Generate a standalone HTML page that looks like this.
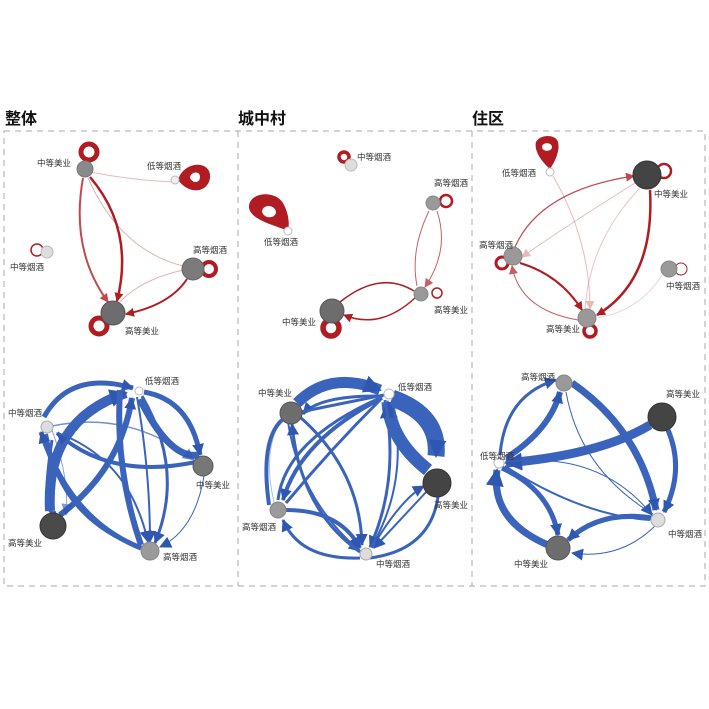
<!DOCTYPE html>
<html><head><meta charset="utf-8"><style>
html,body{margin:0;padding:0;background:#fff;}
svg{display:block;font-family:"Liberation Sans","Noto Sans CJK SC",sans-serif;}
.t{font-size:16px;font-weight:bold;fill:#111;}
.l{font-size:8.5px;fill:#333;}
.r{fill:none;stroke:#b01c22;}
.b{fill:none;stroke:#3a63bb;}
</style></head><body>
<svg width="709" height="709" viewBox="0 0 709 709" xmlns="http://www.w3.org/2000/svg">
<defs>
<marker id="ar" markerUnits="userSpaceOnUse" markerWidth="9" markerHeight="9" refX="8" refY="4.5" orient="auto"><path d="M0,0 L9,4.5 L0,9 z" fill="#b01c22"/></marker>
<marker id="ab" markerUnits="userSpaceOnUse" markerWidth="12" markerHeight="12" refX="11" refY="6" orient="auto"><path d="M0,0 L12,6 L0,12 z" fill="#2f57b0"/></marker>
<marker id="abL" markerUnits="userSpaceOnUse" markerWidth="18" markerHeight="18" refX="16" refY="9" orient="auto"><path d="M0,0 L18,9 L0,18 z" fill="#2f57b0"/></marker>
</defs>
<text class="t" x="5" y="124">整体</text>
<text class="t" x="238" y="124">城中村</text>
<text class="t" x="472" y="124">住区</text>
<g fill="none" stroke="#aaa" stroke-width="1" stroke-dasharray="6,5">
<rect x="4" y="131" width="701" height="455"/>
<line x1="238" y1="131" x2="238" y2="586"/>
<line x1="472" y1="131" x2="472" y2="586"/>
</g>

<!-- Panel 1 top -->
<g>
<path class="r" stroke-width="2" opacity=".8" d="M83,178 Q70,250 108,302" marker-end="url(#ar)"/>
<path class="r" stroke-width="2.5" d="M90,177 Q135,230 117,301" marker-end="url(#ar)"/>
<path class="r" stroke-width="1" opacity=".35" d="M183,266 Q120,250 88,178"/>
<path class="r" stroke-width="1" opacity=".35" d="M183,270 Q140,280 120,302"/>
<path class="r" stroke-width="2" d="M187,279 Q170,305 126,314" marker-end="url(#ar)"/>
<path class="r" stroke-width="1" opacity=".3" d="M174,182 Q130,180 90,172"/>
<circle class="r" stroke-width="5" cx="89" cy="152" r="8"/>
<path fill="#b01c22" d="M178,180 C184,160 212,160 210,178 C208,192 190,196 178,180z M190,178 C190,172 200,170 200,177 C200,183 193,184 190,178z" fill-rule="evenodd"/>
<circle class="r" stroke-width="1.5" cx="37" cy="250" r="6"/>
<circle class="r" stroke-width="4" cx="209" cy="269" r="7"/>
<circle class="r" stroke-width="5" cx="99" cy="326" r="8"/>
<circle cx="85" cy="169" r="8" fill="#8a8a8a" stroke="#777"/>
<circle cx="175" cy="180" r="4" fill="#eee" stroke="#bbb"/>
<circle cx="47" cy="252" r="6" fill="#ddd" stroke="#bbb"/>
<circle cx="193" cy="269" r="11" fill="#7b7b7b" stroke="#666"/>
<circle cx="113" cy="313" r="12" fill="#6d6d6d" stroke="#555"/>
<text class="l" x="37" y="166">中等美业</text>
<text class="l" x="147" y="169">低等烟酒</text>
<text class="l" x="193" y="253">高等烟酒</text>
<text class="l" x="10" y="270">中等烟酒</text>
<text class="l" x="125" y="334">高等美业</text>
</g>

<!-- Panel 1 bottom -->
<g>
<path class="b" stroke-width="5" d="M44,417 Q70,370 133,388" marker-end="url(#ab)"/>
<path class="b" stroke-width="10" d="M50,511 Q45,420 126,393" marker-end="url(#abL)"/>
<path class="b" stroke-width="6" d="M60,515 Q120,470 132,398" marker-end="url(#ab)"/>
<path class="b" stroke-width="7" d="M140,399 Q170,460 199,455" />
<path class="b" stroke-width="5" d="M144,392 Q190,400 200,455" marker-end="url(#ab)"/>
<path class="b" stroke-width="4" d="M196,462 Q110,480 57,433" marker-end="url(#ab)"/>
<path class="b" stroke-width="1.5" opacity=".7" d="M52,426 Q130,410 194,460" marker-end="url(#ab)"/>
<path class="b" stroke-width="4" d="M46,434 Q60,520 145,549"/>
<path class="b" stroke-width="3" d="M52,440 Q40,520 56,512"/>
<path class="b" stroke-width="5" d="M141,548 Q70,520 41,432" marker-end="url(#ab)"/>
<path class="b" stroke-width="6" d="M120,390 Q115,470 141,545" />
<path class="b" stroke-width="3" d="M142,396 Q185,470 155,543" marker-end="url(#ab)"/>
<path class="b" stroke-width="2" d="M137,397 Q150,470 150,542" marker-end="url(#ab)"/>
<path class="b" stroke-width="1" d="M204,476 Q195,530 160,547" marker-end="url(#ab)"/>
<path class="b" stroke-width="2" d="M58,433 Q130,460 148,542" marker-end="url(#ab)"/>
<path class="b" stroke-width="1" opacity=".6" d="M52,430 Q70,480 66,515" marker-end="url(#ab)"/>
<circle cx="139" cy="391" r="4" fill="#fff" stroke="#bbb"/>
<circle cx="47" cy="427" r="6" fill="#ddd" stroke="#aaa"/>
<circle cx="203" cy="466" r="10" fill="#777" stroke="#555"/>
<circle cx="53" cy="526" r="13" fill="#4a4a4a" stroke="#333"/>
<circle cx="150" cy="551" r="9" fill="#9a9a9a" stroke="#888"/>
<text class="l" x="145" y="384">低等烟酒</text>
<text class="l" x="8" y="416">中等烟酒</text>
<text class="l" x="196" y="488">中等美业</text>
<text class="l" x="8" y="546">高等美业</text>
<text class="l" x="163" y="560">高等烟酒</text>
</g>

<!-- Panel 2 top -->
<g>
<circle class="r" stroke-width="3.5" cx="344" cy="157" r="5"/>
<path fill="#b01c22" fill-rule="evenodd" d="M288,231 C278,226 248,220 249,206 C250,192 275,190 283,203 C288,212 290,222 288,231z M262,212 C262,204 275,204 276,212 C276,218 265,220 262,212z"/>
<circle class="r" stroke-width="2.5" cx="446" cy="201" r="6"/>
<circle class="r" stroke-width="1.5" cx="437" cy="293" r="5"/>
<circle class="r" stroke-width="5.5" cx="331" cy="328" r="8"/>
<path class="r" stroke-width="1" opacity=".7" d="M429,211 Q410,250 417,286" />
<path class="r" stroke-width="1" opacity=".7" d="M437,211 Q450,250 425,287" marker-end="url(#ar)"/>
<path class="r" stroke-width="1.5" d="M340,302 Q380,270 414,291"/>
<path class="r" stroke-width="1.5" d="M415,298 Q380,330 344,315" marker-end="url(#ar)"/>
<circle cx="351" cy="165" r="6" fill="#ddd" stroke="#bbb"/>
<circle cx="288" cy="231" r="4" fill="#fff" stroke="#bbb"/>
<circle cx="433" cy="203" r="7" fill="#999" stroke="#888"/>
<circle cx="421" cy="294" r="7" fill="#999" stroke="#888"/>
<circle cx="332" cy="311" r="12" fill="#6d6d6d" stroke="#555"/>
<text class="l" x="357" y="160">中等烟酒</text>
<text class="l" x="264" y="245">低等烟酒</text>
<text class="l" x="434" y="186">高等烟酒</text>
<text class="l" x="434" y="313">高等美业</text>
<text class="l" x="282" y="325">中等美业</text>
</g>

<!-- Panel 2 bottom -->
<g>
<path class="b" stroke-width="11" d="M297,403 Q330,370 380,390" marker-end="url(#abL)"/>
<path class="b" stroke-width="17" d="M392,398 Q440,415 436,456" marker-end="url(#abL)"/>
<path class="b" stroke-width="13" d="M428,470 Q390,440 388,402" marker-end="url(#abL)"/>
<path class="b" stroke-width="3" d="M383,396 Q320,395 303,414" marker-end="url(#ab)"/>
<path class="b" stroke-width="4" d="M382,398 Q300,440 283,500" marker-end="url(#ab)"/>
<path class="b" stroke-width="3" d="M278,500 Q285,440 380,398"/>
<path class="b" stroke-width="3" d="M385,400 Q400,480 370,547" marker-end="url(#ab)"/>
<path class="b" stroke-width="2" d="M392,400 Q410,480 372,546"/>
<path class="b" stroke-width="3" d="M300,417 Q360,470 362,545" marker-end="url(#ab)"/>
<path class="b" stroke-width="2" d="M288,422 Q300,500 360,551" marker-end="url(#ab)"/>
<path class="b" stroke-width="3" d="M360,552 Q300,510 292,424" marker-end="url(#ab)"/>
<path class="b" stroke-width="4" d="M269,505 Q260,440 282,420" />
<path class="b" stroke-width="1" opacity=".4" d="M274,502 Q262,450 282,418" />
<path class="b" stroke-width="4" d="M286,510 Q340,510 360,548" marker-end="url(#ab)"/>
<path class="b" stroke-width="3" d="M360,558 Q300,560 283,520" marker-end="url(#ab)"/>
<path class="b" stroke-width="3" d="M370,558 Q430,550 438,497" />
<path class="b" stroke-width="2" d="M372,548 Q400,500 424,486" marker-end="url(#ab)"/>
<path class="b" stroke-width="2" d="M428,490 Q400,520 374,548" marker-end="url(#ab)"/>
<path class="b" stroke-width="3" d="M380,400 Q330,450 286,503" />
<path class="b" stroke-width="3" d="M384,395 Q335,405 300,412"/>
<circle cx="291" cy="413" r="11" fill="#6d6d6d" stroke="#555"/>
<circle cx="389" cy="394" r="5" fill="#fff" stroke="#bbb"/>
<circle cx="437" cy="483" r="14" fill="#444" stroke="#333"/>
<circle cx="278" cy="510" r="8" fill="#9a9a9a" stroke="#888"/>
<circle cx="366" cy="554" r="6" fill="#ddd" stroke="#aaa"/>
<text class="l" x="258" y="396">中等美业</text>
<text class="l" x="398" y="390">低等烟酒</text>
<text class="l" x="434" y="508">高等美业</text>
<text class="l" x="242" y="530">高等烟酒</text>
<text class="l" x="376" y="567">中等烟酒</text>
</g>

<!-- Panel 3 top -->
<g>
<path fill="#b01c22" fill-rule="evenodd" d="M550,169 C540,160 534,150 536,142 C540,134 556,134 558,142 C560,150 556,160 550,169z M542,147 C542,142 552,142 552,147 C552,152 542,152 542,147z"/>
<circle class="r" stroke-width="2.5" cx="664" cy="171" r="7"/>
<circle class="r" stroke-width="3" cx="502" cy="263" r="6"/>
<circle class="r" stroke-width="1" cx="681" cy="269" r="6"/>
<circle class="r" stroke-width="3.5" cx="590" cy="331" r="6"/>
<path class="r" stroke-width="1.2" opacity=".8" d="M515,247 Q540,190 634,176" marker-end="url(#ar)"/>
<path class="r" stroke-width="1" opacity=".3" d="M635,183 Q560,230 522,257" marker-end="url(#ar)"/>
<path class="r" stroke-width="2.5" d="M650,190 Q655,280 597,315" marker-end="url(#ar)"/>
<path class="r" stroke-width="1" opacity=".25" d="M640,188 Q590,240 585,309"/>
<path class="r" stroke-width="1" opacity=".3" d="M553,176 Q590,240 590,309" marker-end="url(#ar)"/>
<path class="r" stroke-width="2" d="M520,263 Q560,275 582,310" marker-end="url(#ar)"/>
<path class="r" stroke-width="1" opacity=".7" d="M578,320 Q520,310 512,266" marker-end="url(#ar)"/>
<path class="r" stroke-width="1" opacity=".2" d="M662,275 Q640,310 598,318"/>
<circle cx="550" cy="172" r="4" fill="#fff" stroke="#bbb"/>
<circle cx="647" cy="175" r="14" fill="#444" stroke="#333"/>
<circle cx="513" cy="256" r="9" fill="#999" stroke="#888"/>
<circle cx="669" cy="269" r="8" fill="#999" stroke="#888"/>
<circle cx="587" cy="318" r="9" fill="#999" stroke="#888"/>
<text class="l" x="502" y="176">低等烟酒</text>
<text class="l" x="654" y="197">中等美业</text>
<text class="l" x="479" y="248">高等烟酒</text>
<text class="l" x="666" y="289">中等烟酒</text>
<text class="l" x="546" y="332">高等美业</text>
</g>

<!-- Panel 3 bottom -->
<g>
<path class="b" stroke-width="3" d="M500,455 Q505,395 556,380" marker-end="url(#ab)"/>
<path class="b" stroke-width="6" d="M506,458 Q550,430 560,392" marker-end="url(#ab)"/>
<path class="b" stroke-width="7" d="M572,383 Q640,430 656,510" marker-end="url(#ab)"/>
<path class="b" stroke-width="9" d="M650,425 Q600,455 506,463" marker-end="url(#abL)"/>
<path class="b" stroke-width="5" d="M668,430 Q685,470 664,512" marker-end="url(#ab)"/>
<path class="b" stroke-width="1" d="M505,462 Q600,450 652,515" marker-end="url(#ab)"/>
<path class="b" stroke-width="1" d="M566,392 Q580,470 653,514"/>
<path class="b" stroke-width="2" d="M505,466 Q580,515 650,520"/>
<path class="b" stroke-width="5" d="M502,468 Q550,490 558,535" marker-end="url(#ab)"/>
<path class="b" stroke-width="7" d="M548,545 Q490,520 497,470" marker-end="url(#abL)"/>
<path class="b" stroke-width="5" d="M652,518 Q600,510 568,540" marker-end="url(#ab)"/>
<path class="b" stroke-width="1" d="M655,526 Q620,560 572,553" marker-end="url(#ab)"/>
<circle cx="564" cy="383" r="8" fill="#999" stroke="#888"/>
<circle cx="662" cy="417" r="14" fill="#444" stroke="#333"/>
<circle cx="499" cy="463" r="5" fill="#fff" stroke="#bbb"/>
<circle cx="658" cy="520" r="7" fill="#ddd" stroke="#aaa"/>
<circle cx="558" cy="548" r="12" fill="#6d6d6d" stroke="#555"/>
<text class="l" x="521" y="380">高等烟酒</text>
<text class="l" x="666" y="397">高等美业</text>
<text class="l" x="480" y="459">低等烟酒</text>
<text class="l" x="668" y="537">中等烟酒</text>
<text class="l" x="514" y="567">中等美业</text>
</g>
</svg>
</body></html>
